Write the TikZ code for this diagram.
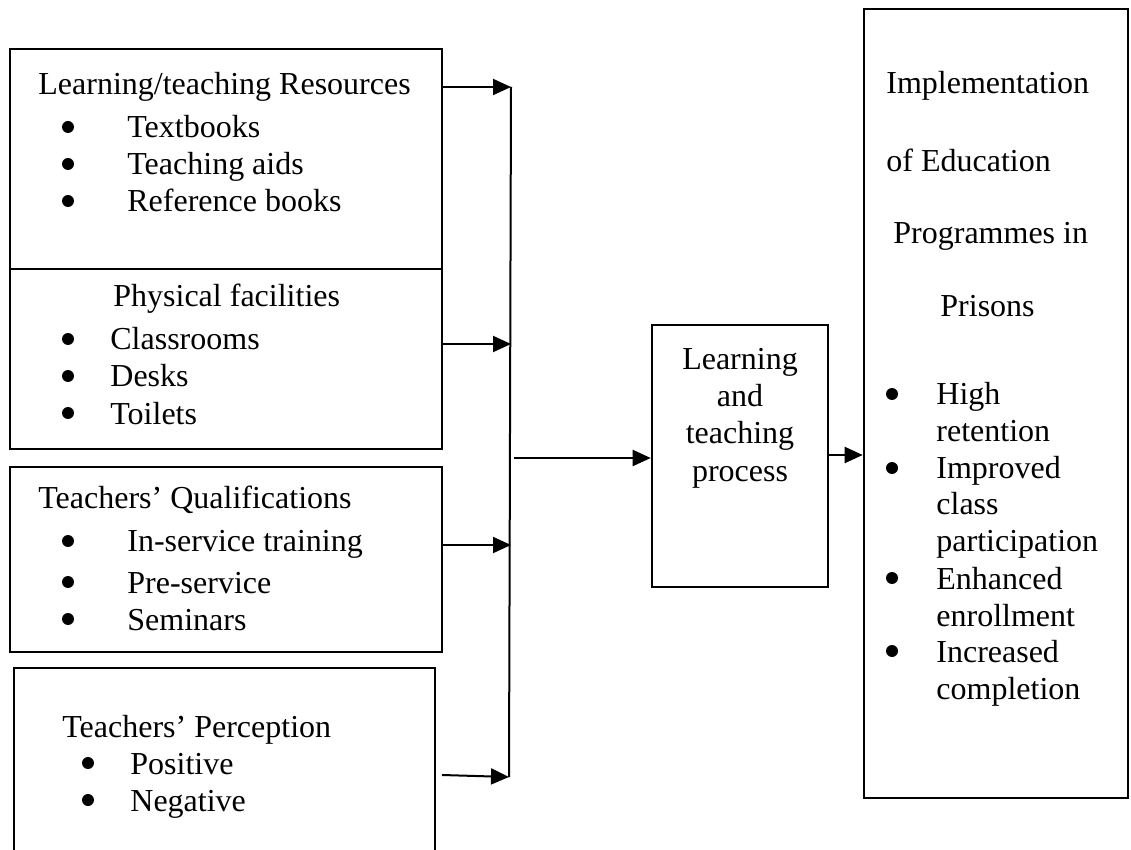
\documentclass[tikz,border=0pt]{standalone}
\usepackage{fontspec}
\setmainfont{Liberation Serif}
\usetikzlibrary{arrows.meta,fit}

\tikzset{
  box/.style={draw, line width=1.3pt, inner sep=0pt},
  txt/.style={anchor=base west, inner sep=0pt},
  ctxt/.style={anchor=base, inner sep=0pt},
  bul/.style={circle, fill, inner sep=0pt, minimum size=6pt},
  arr/.style={line width=1pt, -{Triangle[length=9pt,width=8pt]}}
}

\begin{document}
\begin{tikzpicture}[x=0.5pt, y=-0.5pt, font=\fontsize{16}{18}\selectfont]
		
		\useasboundingbox (0,0) rectangle (1131,850);
		
		% left boxes
		\node[box, fit={(10,49) (442,269)}] (res) {};
		\node[box, fit={(10,269) (442,449)}] (fac) {};
		\node[box, fit={(10,467) (442,652)}] (qual) {};
		\node[box, fit={(14,668) (435,870)}] (perc) {};
		
		% middle and right boxes
		\node[box, fit={(652,325) (828,587)}] (proc) {};
		\node[box, fit={(864,9) (1128,798)}] (impl) {};
		
		\node[txt] (t1) at (38,95) {Learning/teaching Resources};
		\node[bul] (b1a) at (68,127) {};
		\node[txt] (i1a) at (127,138) {Textbooks};
		\node[bul] (b1b) at (68,164) {};
		\node[txt] (i1b) at (127,175) {Teaching aids};
		\node[bul] (b1c) at (68,201) {};
		\node[txt] (i1c) at (127,212) {Reference books};
		
		\node[txt] (t2) at (113,307) {Physical facilities};
		\node[bul] (b2a) at (68,339) {};
		\node[txt] (i2a) at (110,350) {Classrooms};
		\node[bul] (b2b) at (68,376) {};
		\node[txt] (i2b) at (110,387) {Desks};
		\node[bul] (b2c) at (68,413) {};
		\node[txt] (i2c) at (110,424) {Toilets};
		
		\node[txt] (t3) at (38,509) {Teachers’ Qualifications};
		\node[bul] (b3a) at (68,541) {};
		\node[txt] (i3a) at (127,552) {In-service training};
		\node[bul] (b3b) at (68,582) {};
		\node[txt] (i3b) at (127,593) {Pre-service};
		\node[bul] (b3c) at (68,619) {};
		\node[txt] (i3c) at (127,630) {Seminars};
		
		\node[txt] (t4) at (62,737) {Teachers’ Perception};
		\node[bul] (b4a) at (88,763) {};
		\node[txt] (i4a) at (130,774) {Positive};
		\node[bul] (b4b) at (88,800) {};
		\node[txt] (i4b) at (130,811) {Negative};
		
		\node[ctxt] (p1) at (740,370) {Learning};
		\node[ctxt] (p2) at (740,407) {and};
		\node[ctxt] (p3) at (740,444) {teaching};
		\node[ctxt] (p4) at (740,481) {process};
		
		\node[txt] (r1) at (886,94) {Implementation};
		\node[txt] (r2) at (886,172) {of Education};
		\node[txt] (r3) at (893,244) {Programmes in};
		\node[txt] (r4) at (940,317) {Prisons};
		\node[bul] (rb1) at (892,394) {};
		\node[txt] (ri1) at (936,405) {High};
		\node[txt] (ri2) at (936,442) {retention};
		\node[bul] (rb2) at (892,468) {};
		\node[txt] (ri3) at (936,479) {Improved};
		\node[txt] (ri4) at (936,515) {class};
		\node[txt] (ri5) at (936,552) {participation};
		\node[bul] (rb3) at (892,578) {};
		\node[txt] (ri6) at (936,589) {Enhanced};
		\node[txt] (ri7) at (936,626) {enrollment};
		\node[bul] (rb4) at (892,651) {};
		\node[txt] (ri8) at (936,662) {Increased};
		\node[txt] (ri9) at (936,699) {completion};
		
		% connectors
		\coordinate (bus1) at (511,87);
		\coordinate (bus2) at (511,344);
		\coordinate (bus3) at (511,545);
		\coordinate (bus4) at (509,777);
		\coordinate (percout) at (442,775);
		\coordinate (busout) at (514,458);
		
		\draw[line width=1pt] (bus1) -- (bus4);
		\draw[arr] (res.east |- bus1) -- (bus1);
		\draw[arr] (fac.east |- bus2) -- (bus2);
		\draw[arr] (qual.east |- bus3) -- (bus3);
		\draw[arr] (percout) -- (bus4);
		\draw[arr] (busout) -- (proc.west |- busout);
		\draw[arr] (proc.east |- 0,455) -- (impl.west |- 0,455);
		
\end{tikzpicture}
\end{document}
